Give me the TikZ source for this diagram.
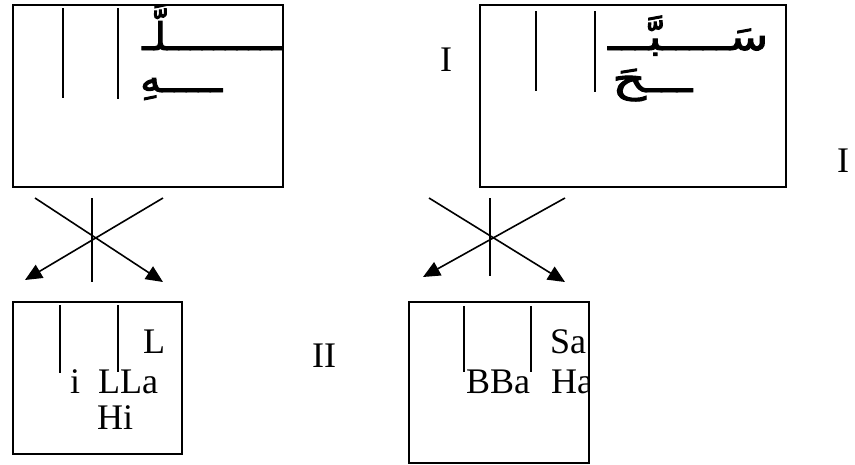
\documentclass[tikz,border=0pt]{standalone}
\usepackage{fontspec}
\usepackage{graphicx}
\setmainfont{Liberation Serif}
\newfontfamily\arabicfont[Script=Arabic,FakeBold=2.5]{DejaVu Sans}
\TeXXeTstate=1
\usetikzlibrary{arrows.meta}
\newcommand\arline[2]{\resizebox{#1}{\height}{\beginR #2\endR}}
\tikzset{
  box/.style={draw, line width=2pt, inner sep=0pt, outer sep=0pt, anchor=north west},
  stroke/.style={line width=1.3pt},
  crossline/.style={line width=1.6pt},
  arr/.style={crossline, -{Triangle[length=17pt,width=15pt]}},
  lat/.style={font=\fontsize{36}{40}\selectfont, inner sep=0pt, anchor=base west},
  arab/.style={font=\arabicfont\fontsize{38}{42}\selectfont, inner sep=0pt, anchor=base west},
}
\begin{document}
\begin{tikzpicture}[x=1pt,y=-1pt]
\useasboundingbox (0,0) rectangle (855,464);
% boxes
\node[box, minimum width=270pt, minimum height=182pt] (b1) at (13,5) {};
\node[box, minimum width=306pt, minimum height=182pt] (b2) at (480,5) {};
\node[box, minimum width=169pt, minimum height=152pt] (b3) at (13,302) {};
\node[box, minimum width=180pt, minimum height=161pt] (b4) at (409,302) {};
% vertical strokes in boxes
\draw[stroke] (63,8) -- (63,98);
\draw[stroke] (118,8) -- (118,99);
\draw[stroke] (536,11) -- (536,91);
\draw[stroke] (595,11) -- (595,92);
\draw[stroke] (60,305) -- (60,373);
\draw[stroke] (118,305) -- (118,372);
\draw[stroke] (464,306) -- (464,372);
\draw[stroke] (531,306) -- (531,372);
% Arabic text
\begin{scope}
\clip (13,5) rectangle (283,187);
\node[arab] (t1a) at (142,50) {\arline{165pt}{لِـــــــــــلَّـ}};
\end{scope}
\node[arab] (t1b) at (140,92) {\arline{82pt}{ـــــهِ}};
\node[arab] (t2a) at (608,50) {\arline{160pt}{سَـــــبَّـــ}};
\node[arab] (t2b) at (612,92) {\arline{80pt}{ـــحَ}};
% crosses
\coordinate (c1a) at (35,198); \coordinate (c1b) at (163,282);
\coordinate (c1c) at (163,198); \coordinate (c1d) at (25,280);
\coordinate (c1e) at (92,198); \coordinate (c1f) at (92,282);
\draw[arr] (c1a) -- (c1b);
\draw[arr] (c1c) -- (c1d);
\draw[crossline] (c1e) -- (c1f);
\coordinate (c2a) at (429,198); \coordinate (c2b) at (565,282);
\coordinate (c2c) at (565,198); \coordinate (c2d) at (423,277);
\coordinate (c2e) at (490,198); \coordinate (c2f) at (490,276);
\draw[arr] (c2a) -- (c2b);
\draw[arr] (c2c) -- (c2d);
\draw[crossline] (c2e) -- (c2f);
% Latin text
\node[lat] (l1) at (143,353) {L};
\node[lat] (l2) at (70,393) {i\ \ LLa};
\node[lat] (l3) at (97,429) {Hi};
\node[lat] (s1) at (550,353) {Sa};
\node[lat] (s2) at (466,393) {BBa};
\begin{scope}
\clip (409,302) rectangle (589,463);
\node[lat] (s3) at (551,393) {Ha};
\end{scope}
\node[lat] (n1) at (440,71) {I};
\node[lat] (n2) at (837,172) {I};
\node[lat] (n3) at (312,367) {II};
\end{tikzpicture}
\end{document}
